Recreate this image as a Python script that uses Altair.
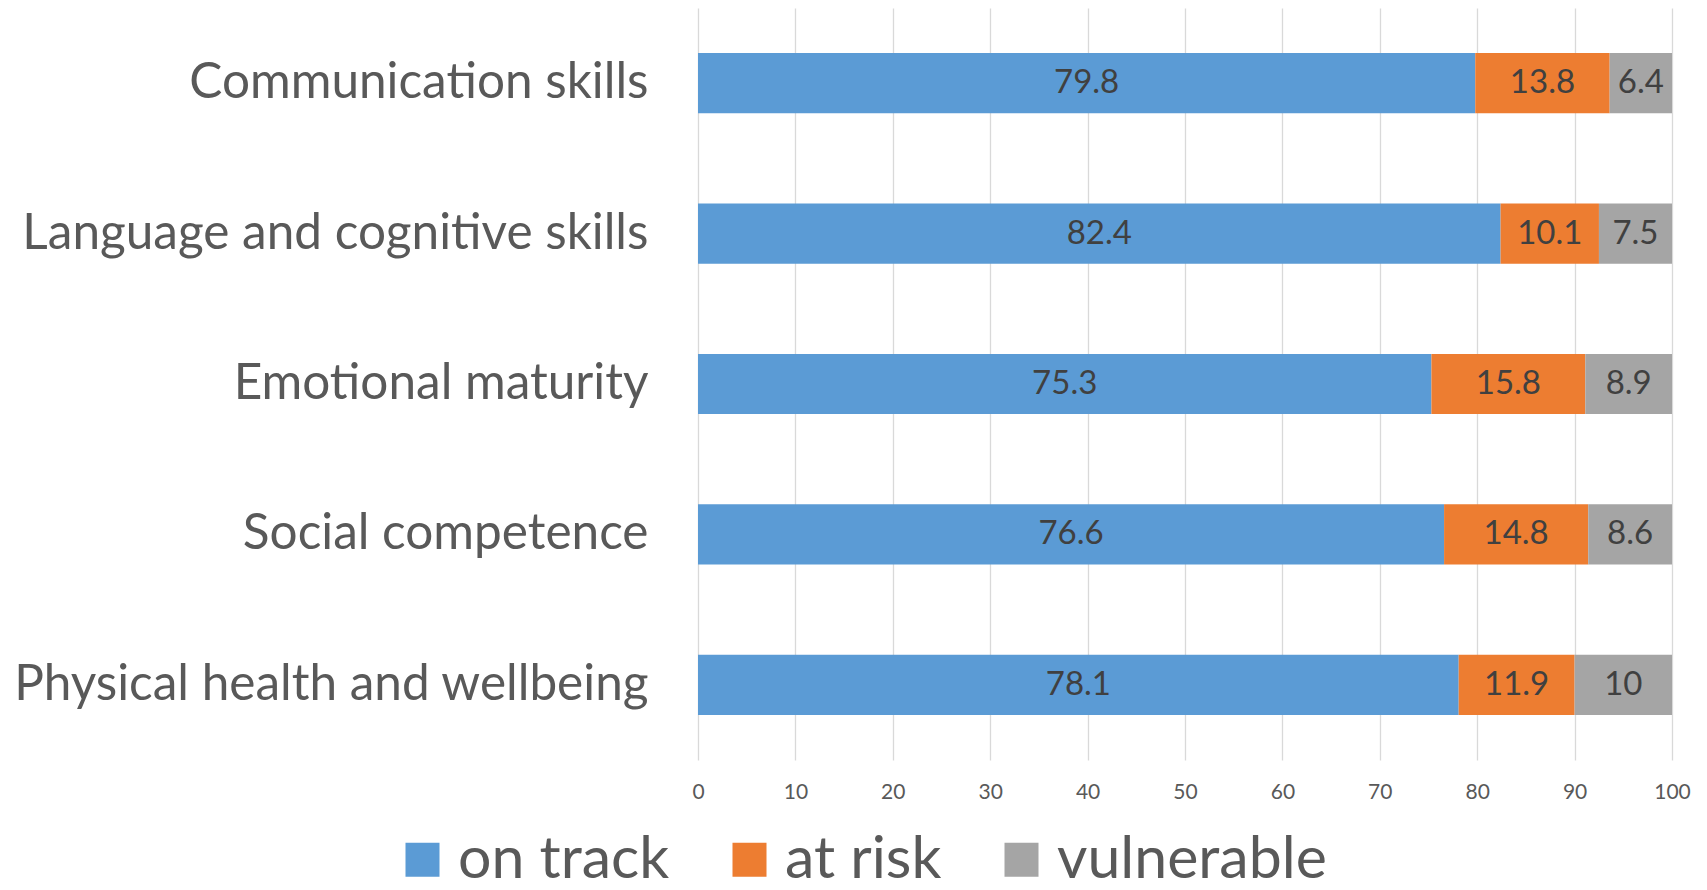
import altair as alt
import pandas as pd

categories = ["Communication skills", "Language and cognitive skills", "Emotional maturity",
              "Social competence", "Physical health and wellbeing"]
series = ["on track", "at risk", "vulnerable"]
on_track = [79.8, 82.4, 75.3, 76.6, 78.1]
at_risk = [13.8, 10.1, 15.8, 14.8, 11.9]
vulnerable = [6.4, 7.5, 8.9, 8.6, 10]
colors = ["#5B9BD5", "#ED7D31", "#A5A5A5"]
x_ticks = [0, 10, 20, 30, 40, 50, 60, 70, 80, 90, 100]

rows = []
for i, c in enumerate(categories):
    for j, (s, vals) in enumerate(zip(series, [on_track, at_risk, vulnerable])):
        rows.append({"category": c, "series": s, "order": j, "value": vals[i]})
df = pd.DataFrame(rows)

FONT = "Lato"

base = alt.Chart(df).transform_stack(
    stack="value", groupby=["category"],
    sort=[alt.SortField("order", order="ascending")], as_=["x0", "x1"]
).transform_calculate(mid="(datum.x0 + datum.x1) / 2")

yenc = alt.Y("category:N", sort=categories, title=None,
             scale=alt.Scale(paddingInner=0.6, paddingOuter=0.3),
             axis=alt.Axis(labelFontSize=49.5, labelColor="#595959", labelFont=FONT,
                           labelPadding=50, ticks=False, domain=False,
                           minExtent=690, maxExtent=690, labelLimit=700))

xenc = alt.X("x0:Q", scale=alt.Scale(domain=[0, 100], nice=False), title=None,
             axis=alt.Axis(values=x_ticks, labelFontSize=21, labelFont=FONT,
                           labelColor="#595959", labelPadding=21, labelFlush=False,
                           ticks=False, domain=False, grid=True,
                           gridColor="#D9D9D9", gridWidth=1.3))

bars = base.mark_bar().encode(
    x=xenc,
    x2="x1:Q",
    y=yenc,
    color=alt.Color("series:N", scale=alt.Scale(domain=series, range=colors),
                    legend=alt.Legend(orient="none", legendX=-305, legendY=822,
                                      direction="horizontal", title=None, padding=0,
                                      symbolType="square", symbolSize=1156,
                                      symbolStrokeWidth=0, symbolOpacity=1,
                                      labelFontSize=59, labelFont=FONT,
                                      labelColor="#595959", labelOffset=6,
                                      labelLimit=600, columnPadding=50)),
)

text = base.mark_text(font=FONT, fontSize=33, color="#404040").encode(
    x=alt.X("mid:Q"),
    y=alt.Y("category:N", sort=categories),
    text=alt.Text("value:Q", format=".1~f"),
)

chart = (bars + text).properties(
    width=974, height=752,
    padding={"left": 0, "top": 0, "right": 5, "bottom": 0},
).configure_view(stroke=None)

chart.save("out.html", embed_options={"renderer": "svg", "actions": False})
